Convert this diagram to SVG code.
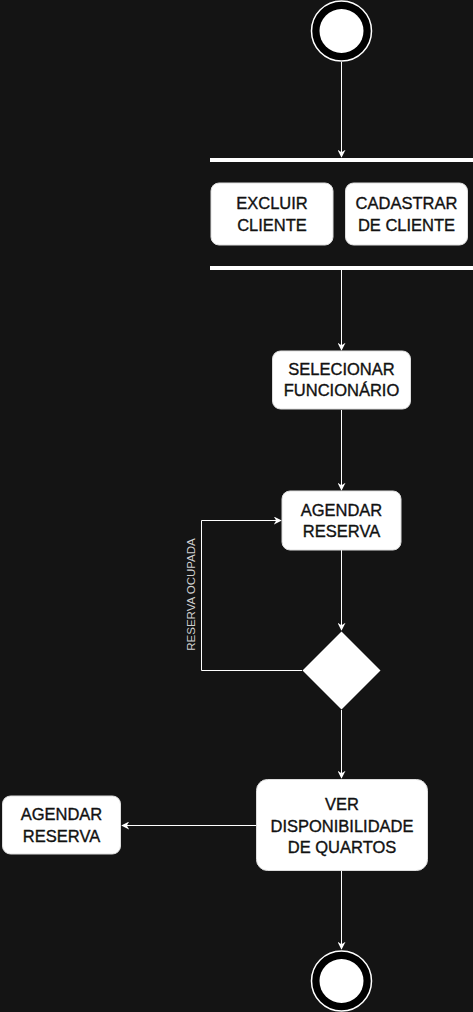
<svg xmlns="http://www.w3.org/2000/svg" width="473" height="1012" viewBox="0 0 473 1012">
  <style>
    .box { fill: #ffffff; stroke: #dddddd; stroke-width: 1; }
    .t { font-family: "Liberation Sans", Arial, Helvetica, sans-serif; font-size: 16.5px; fill: #111111; stroke: #111111; stroke-width: 0.35; text-anchor: middle; }
    .edge { fill: none; stroke: #ffffff; stroke-width: 1; }
    .lbl { font-family: "Liberation Sans", Arial, Helvetica, sans-serif; font-size: 11.5px; fill: #d0d0d0; text-anchor: middle; }
  </style>
  <defs>
    <marker id="arr" viewBox="0 0 10 10" refX="9" refY="5" markerWidth="8" markerHeight="8" markerUnits="userSpaceOnUse" orient="auto">
      <path d="M0,0 L10,5 L0,10 L3,5 Z" fill="#ffffff"/>
    </marker>
  </defs>
  <rect width="473" height="1012" fill="#141414"/>

  <g id="connectors">
    <line class="edge" x1="341.5" y1="62" x2="341.5" y2="157" marker-end="url(#arr)"/>
    <line class="edge" x1="341.5" y1="270" x2="341.5" y2="350" marker-end="url(#arr)"/>
    <line class="edge" x1="341.5" y1="410" x2="341.5" y2="490" marker-end="url(#arr)"/>
    <line class="edge" x1="341.5" y1="550" x2="341.5" y2="630" marker-end="url(#arr)"/>
    <polyline class="edge" points="302,670.5 201.5,670.5 201.5,520.5 281,520.5" marker-end="url(#arr)"/>
    <text class="lbl" transform="translate(195,594.5) rotate(-90)">RESERVA OCUPADA</text>
    <line class="edge" x1="341.5" y1="710" x2="341.5" y2="778" marker-end="url(#arr)"/>
    <line class="edge" x1="256" y1="825.5" x2="122" y2="825.5" marker-end="url(#arr)"/>
    <line class="edge" x1="341.5" y1="871" x2="341.5" y2="949" marker-end="url(#arr)"/>
  </g>

  <g id="start">
    <circle cx="341.5" cy="31" r="30" fill="#000000" stroke="#ffffff" stroke-width="1.5"/>
    <circle cx="341.5" cy="31" r="22" fill="#ffffff"/>
  </g>

  <g id="fork">
    <rect x="210" y="158" width="263" height="4" fill="#ffffff"/>
  </g>

  <g id="excluir">
    <rect class="box" x="211" y="183" width="122" height="62" rx="8"/>
    <text class="t" x="272" y="209.3">EXCLUIR</text>
    <text class="t" x="272" y="230.8">CLIENTE</text>
  </g>

  <g id="cadastrar">
    <rect class="box" x="345.5" y="183" width="122" height="62" rx="8"/>
    <text class="t" x="406.5" y="209.3">CADASTRAR</text>
    <text class="t" x="406.5" y="230.8">DE CLIENTE</text>
  </g>

  <g id="join">
    <rect x="210" y="266" width="263" height="4" fill="#ffffff"/>
  </g>

  <g id="selecionar">
    <rect class="box" x="272.5" y="351" width="138" height="58" rx="8"/>
    <text class="t" x="341.5" y="375.1">SELECIONAR</text>
    <text class="t" x="341.5" y="396.2">FUNCIONÁRIO</text>
  </g>

  <g id="agendar1">
    <rect class="box" x="282" y="491" width="119" height="59" rx="8"/>
    <text class="t" x="341.5" y="515.5">AGENDAR</text>
    <text class="t" x="341.5" y="537">RESERVA</text>
  </g>

  <g id="decision">
    <polygon points="341.5,631.5 380.5,670.5 341.5,709.5 302.5,670.5" fill="#ffffff"/>
  </g>

  <g id="ver">
    <rect class="box" x="256.5" y="779.5" width="171" height="91" rx="11"/>
    <text class="t" x="342" y="810.3">VER</text>
    <text class="t" x="342" y="831.5">DISPONIBILIDADE</text>
    <text class="t" x="342" y="852.7">DE QUARTOS</text>
  </g>

  <g id="agendar2">
    <rect class="box" x="2.5" y="796" width="118" height="58" rx="8"/>
    <text class="t" x="61.5" y="820.2">AGENDAR</text>
    <text class="t" x="61.5" y="841.7">RESERVA</text>
  </g>

  <g id="end">
    <circle cx="341.5" cy="981" r="30" fill="#000000" stroke="#ffffff" stroke-width="1.5"/>
    <circle cx="341.5" cy="981" r="22" fill="#ffffff"/>
  </g>
</svg>
